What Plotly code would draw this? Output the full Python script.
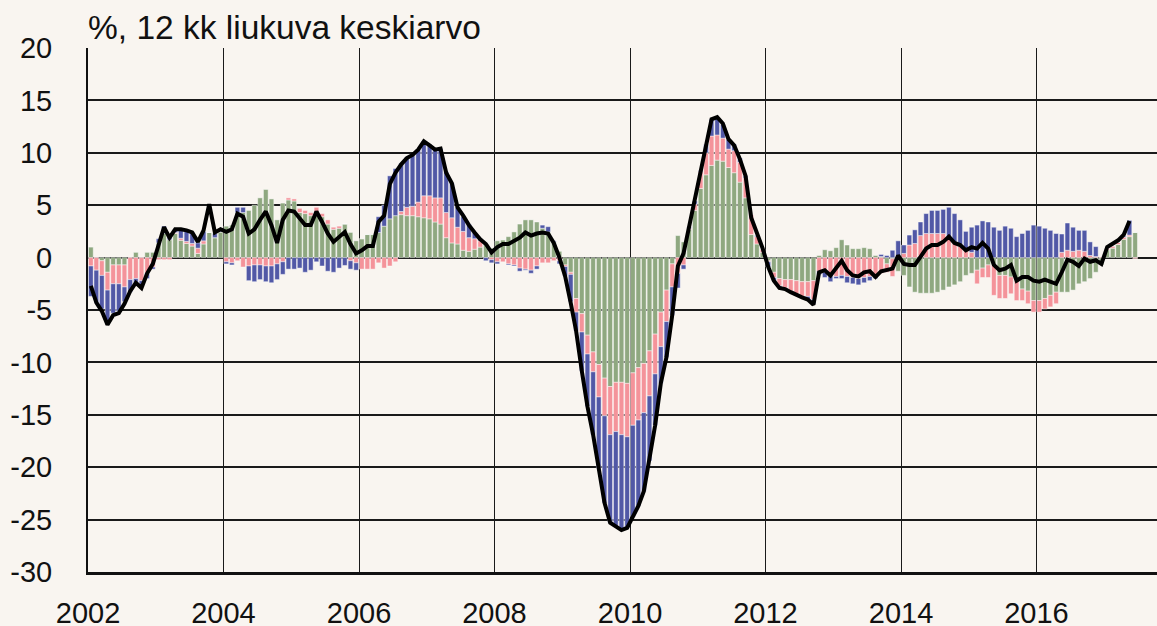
import pandas as pd
import plotly.graph_objects as go

# Monthly periods, Jan 2002 .. Jun 2017
months = pd.date_range("2002-01-01", periods=186, freq="MS")

green = [
    1.0, 0.0, -0.3, -1.4, -0.7, -0.7, -0.7, 0.0, 0.5, 0.0, 0.5, 0.5,
    1.4, 2.3, 1.7, 2.3, 1.65, 1.35, 1.1, 0.4, 1.3, 2.4, 1.9, 2.45,
    3.0, 3.1, 4.3, 4.3, 4.5, 5.0, 5.7, 6.5, 5.6, 3.6, 5.2, 5.5,
    5.4, 4.3, 4.2, 4.0, 4.0, 3.9, 3.2, 2.7, 2.8, 3.2, 2.4, 1.6,
    1.8, 2.2, 2.2, 2.4, 3.0, 3.7, 4.0, 4.1, 4.0, 4.0, 3.9, 3.8,
    3.7, 3.4, 3.2, 1.9, 1.4, 1.3, 0.7, 0.6, 0.8, 1.0, 1.3, 0.9,
    1.6, 1.7, 2.0, 2.45, 3.2, 3.6, 3.6, 3.4, 2.8, 2.45, 1.5, 0.6,
    -0.7, -1.4, -3.9, -5.35, -7.4, -9.0, -10.2, -11.5, -12.3, -11.9, -11.9, -12.0,
    -11.0, -10.5, -10.1, -8.9, -7.3, -5.2, -3.1, -0.6, 2.1, 1.5, 2.7, 4.5,
    6.6, 7.9, 8.8, 9.3, 9.2, 8.6, 8.1, 7.2, 5.7, 2.2, 1.3, 0.5,
    -0.3, -1.4, -2.0, -2.1, -2.1, -2.2, -2.3, -2.3, -2.2, 0.2, 0.75, 0.65,
    0.95, 1.7, 1.2, 0.85, 0.85, 0.95, 0.85, 0.2, 0.1, -0.6, -0.1, -1.3,
    -1.7, -2.8, -3.3, -3.4, -3.4, -3.4, -3.3, -3.1, -2.8, -2.6, -2.3, -1.7,
    -1.5, -1.2, -1.0, -0.7, -0.7, -1.7, -1.7, -1.85, -2.2, -3.0, -3.2, -4.1,
    -4.1, -3.9, -3.6, -3.3, -3.3, -3.3, -3.1, -2.5, -2.3, -2.0, -1.4, -0.7,
    0.75, 0.9, 1.25, 1.75, 2.0, 2.4,
]

pink = [
    -0.8, -1.2, -1.4, -1.7, -1.8, -1.8, -2.1, -2.1, -2.0, -2.2, -1.5, -0.9,
    -0.2, -0.2, -0.2, 0.1, 0.2, 0.2, 0.25, 0.5, 0.3, 0.0, 0.0, 0.0,
    -0.4, -0.5, -0.3, -0.9, -0.8, -0.7, -0.7, -0.8, -0.8, -0.6, -0.4, 0.2,
    0.2, 0.4, 0.3, 0.3, 0.8, 0.3, 0.4, 0.2, 0.2, 0.0, -0.3, -0.5,
    -1.1, -1.1, -1.1, -0.5, -1.0, -0.8, -0.4, 0.3, 0.8, 0.9, 1.4, 2.1,
    2.2, 2.3, 2.5, 2.4, 2.4, 1.6, 1.8, 1.3, 1.0, 0.6, 0.0, -0.2,
    -0.4, -0.4, -0.6, -0.7, -1.0, -1.1, -1.2, -0.8, -0.5, -0.5, -0.3, -0.3,
    -0.15, -0.2, -1.3, -1.75, -1.8, -1.9, -3.1, -3.6, -4.6, -4.7, -5.0, -5.1,
    -5.0, -5.0, -4.7, -4.3, -3.8, -3.3, -3.0, -2.2, -1.5, -0.7, 0.1, 0.6,
    1.6, 2.1, 2.8, 2.4, 2.2, 1.75, 2.1, 1.9, 1.9, 1.9, 0.7, 0.3,
    -0.1, -0.5, -0.7, -0.8, -1.1, -1.3, -1.4, -1.4, -1.8, -1.3, -1.4, -1.6,
    -1.8, -1.7, -1.8, -1.9, -2.0, -1.9, -1.8, -1.6, -1.5, -0.8, -1.7, 0.0,
    0.4, 1.2, 1.35, 2.1, 2.3, 2.3, 2.3, 2.3, 2.0, 1.5, 1.1, 0.7,
    0.5, -1.3, -0.9, -1.2, -2.9, -2.2, -2.2, -1.6, -1.9, -1.1, -1.2, -1.1,
    -1.1, -1.0, -1.1, -1.1, 0.5, 0.7, 0.6, 0.7, 0.6, 0.2, 0.1, 0.1,
    0.15, 0.2, 0.2, 0.2, 0.15, -0.1,
]

blue = [
    -2.9, -3.1, -3.2, -3.3, -2.8, -2.6, -1.4, -1.2, -0.7, -0.6, -0.5, -0.2,
    0.4, 0.7, 0.3, 0.3, 0.8, 1.0, 1.1, 0.5, 0.9, 0.0, 0.4, 0.1,
    -0.2, -0.2, 0.5, 0.5, -1.4, -1.6, -1.4, -1.5, -1.6, -1.5, -1.2, -1.1,
    -1.1, -1.0, -1.4, -1.2, -0.4, -0.8, -1.3, -1.4, -1.0, -0.75, -0.8, -0.7,
    0.0, 0.0, 0.0, 1.5, 2.0, 4.1, 4.5, 4.6, 4.8, 4.9, 5.0, 5.2,
    4.9, 4.7, 4.7, 3.9, 3.3, 1.9, 1.4, 1.3, 0.6, 0.2, -0.3, -0.3,
    -0.2, 0.0, -0.1, -0.1, -0.3, -0.1, -0.3, -0.3, 0.3, 0.5, 0.1, -0.3,
    -0.9, -2.6, -1.8, -3.7, -5.0, -6.0, -6.8, -8.3, -8.4, -9.0, -9.1, -8.7,
    -8.7, -8.2, -7.5, -6.2, -4.9, -3.5, -3.4, -2.7, -1.4, -0.4, 0.1, 0.3,
    0.1, 0.8, 1.6, 1.7, 1.3, 0.9, 0.6, 0.4, 0.2, 0.0, 0.1, 0.0,
    -0.5, -0.3, -0.2, -0.1, -0.1, -0.1, -0.1, -0.3, -0.4, -0.3, -0.5, -0.7,
    -0.2, -0.3, -0.6, -0.6, -0.6, -0.5, -0.4, -0.4, 0.2, 0.2, 0.7, 1.6,
    0.8, 0.95, 1.3, 1.3, 1.9, 2.2, 2.2, 2.3, 2.8, 2.7, 2.5, 1.8,
    2.4, 3.1, 3.5, 3.4, 2.9, 2.6, 3.0, 2.8, 2.0, 2.3, 2.6, 3.1,
    3.0, 2.8, 2.6, 2.3, 1.75, 2.6, 2.3, 1.9, 2.0, 1.3, 0.95, 0.0,
    0.0, 0.0, 0.0, 0.1, 1.4, 0.0,
]

total = [
    -2.7, -4.3, -5.1, -6.4, -5.5, -5.3, -4.4, -3.2, -2.4, -2.9, -1.5, -0.6,
    1.2, 2.9, 1.9, 2.7, 2.7, 2.6, 2.4, 1.5, 2.6, 5.1, 2.4, 2.7,
    2.45, 2.7, 4.2, 3.9, 2.3, 2.7, 3.6, 4.4, 3.1, 1.4, 3.6, 4.5,
    4.4, 3.7, 3.1, 3.1, 4.4, 3.4, 2.3, 1.5, 2.0, 2.45, 1.3, 0.4,
    0.7, 1.1, 1.1, 3.4, 4.0, 7.0, 8.1, 8.9, 9.5, 9.8, 10.3, 11.1,
    10.7, 10.3, 10.4, 8.1, 7.1, 4.8, 4.0, 3.1, 2.4, 1.75, 1.3, 0.5,
    1.0, 1.3, 1.3, 1.6, 1.9, 2.4, 2.1, 2.3, 2.4, 2.3, 1.4, 0.0,
    -1.8, -4.3, -7.0, -10.8, -14.2, -16.9, -20.1, -23.4, -25.3, -25.6, -26.0, -25.8,
    -24.7, -23.7, -22.3, -19.4, -16.0, -12.0, -9.5, -5.5, -0.8, 0.4, 2.9, 5.5,
    8.2, 10.8, 13.2, 13.4, 12.8, 11.3, 10.7, 9.4, 7.8, 3.8, 2.4, 0.9,
    -0.9, -2.2, -2.9, -3.0, -3.3, -3.6, -3.8, -4.0, -4.5, -1.4, -1.2, -1.7,
    -1.05, -0.3, -1.2, -1.7, -1.8, -1.4, -1.3, -1.85, -1.3, -1.2, -1.05, 0.2,
    -0.6, -0.7, -0.7, 0.06, 0.86, 1.2, 1.2, 1.5, 2.0, 1.4, 1.2, 0.7,
    1.0, 0.86, 1.4, 0.86, -0.7, -1.2, -1.05, -0.7, -2.2, -1.85, -1.85, -2.2,
    -2.3, -2.1, -2.3, -2.5, -1.4, -0.2, -0.4, -0.8, -0.1, -0.4, -0.25, -0.6,
    1.0, 1.3, 1.65, 2.2, 3.5,
]

title_text = "%, 12 kk liukuva keskiarvo"
y_ticks = [20, 15, 10, 5, 0, -5, -10, -15, -20, -25, -30]
y_tick_text = ["20", "15", "10", "5", "0", "-5", "-10", "-15", "-20", "-25", "-30"]

BG = "#F9F5F0"
C_GREEN = "#8FA880"
C_PINK = "#F4939A"
C_BLUE = "#5158A6"
EDGE = "rgba(255,255,255,0.55)"
INK = "#111111"

fig = go.Figure()
for vals, col in ((green, C_GREEN), (pink, C_PINK), (blue, C_BLUE)):
    fig.add_trace(go.Bar(
        x=months, y=vals,
        xperiod="M1", xperiodalignment="middle",
        marker=dict(color=col, line=dict(color=EDGE, width=0.8)),
        hoverinfo="skip",
    ))

fig.add_trace(go.Scatter(
    x=months[:len(total)], y=total,
    xperiod="M1", xperiodalignment="middle",
    mode="lines", line=dict(color="#000000", width=4),
    hoverinfo="skip",
))

fig.update_layout(
    width=1157, height=626,
    margin=dict(l=88, r=0, t=48, b=54, autoexpand=False),
    paper_bgcolor=BG, plot_bgcolor=BG,
    barmode="relative", bargap=0.14,
    showlegend=False,
    font=dict(family="Liberation Sans, Arial, sans-serif", size=29, color=INK),
    annotations=[dict(
        text=title_text, xref="paper", yref="paper", x=0, y=1,
        xanchor="left", yanchor="bottom", yshift=0, xshift=-2,
        showarrow=False, font=dict(size=33.5, color=INK),
    )],
)
fig.update_xaxes(
    type="date", range=["2002-01-01", "2017-10-12"],
    tick0="2002-01-01", dtick="M24", tickformat="%Y",
    showgrid=True, gridcolor="#1a1a1a", gridwidth=1.4,
    showline=True, linecolor=INK, linewidth=2.8,
    ticks="", ticklabelstandoff=13, automargin=False,
    tickfont=dict(size=29),
)
fig.update_yaxes(
    range=[-30, 20], tickvals=y_ticks, ticktext=y_tick_text,
    showgrid=True, gridcolor="#1a1a1a", gridwidth=1.9,
    zeroline=True, zerolinecolor="#1a1a1a", zerolinewidth=1.9,
    showline=True, linecolor=INK, linewidth=2,
    ticks="", ticklabelstandoff=28, automargin=False,
    tickfont=dict(size=29),
)

fig.write_html(
    "out.html",
    config={"displayModeBar": False},
    post_script="document.body.style.margin='0';document.body.style.padding='0';",
)
